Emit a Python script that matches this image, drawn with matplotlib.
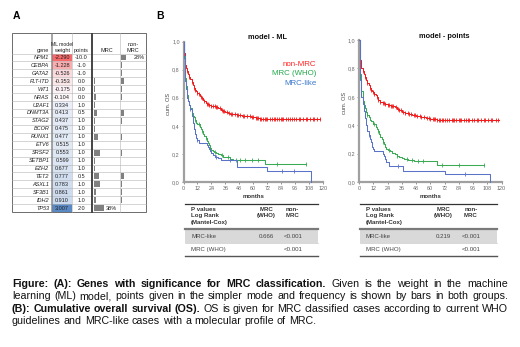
import numpy as np
import matplotlib
matplotlib.use("Agg")
import matplotlib.pyplot as plt
from matplotlib.patches import Rectangle
from matplotlib.colors import LinearSegmentedColormap, TwoSlopeNorm

plt.rcParams['font.family'] = ['Liberation Sans', 'DejaVu Sans']

# ---------------- panel A data ----------------
genes = ['NPM1', 'CEBPA', 'GATA2', 'FLT-ITD', 'WT1', 'NRAS', 'U2AF1', 'DNMT3A', 'STAG2', 'BCOR',
         'RUNX1', 'ETV6', 'SRSF2', 'SETBP1', 'EZH2', 'TET2', 'ASXL1', 'SF3B1', 'IDH2', 'TP53']
ml_weight = [-2.290, -1.228, -0.526, -0.353, -0.175, -0.104, 0.334, 0.413, 0.437, 0.475,
             0.477, 0.515, 0.553, 0.599, 0.677, 0.777, 0.783, 0.861, 0.910, 3.007]
points = [-10.0, -1.0, -1.0, 0.0, 0.0, 0.0, 1.0, 0.5, 1.0, 1.0,
          1.0, 1.0, 1.0, 1.0, 1.0, 0.5, 1.0, 1.0, 1.0, 2.0]
# frequency (%) in MRC / non-MRC groups (data bars)
freq_mrc = [0, 0, 0, 5, 5, 8, 6, 13, 5, 4, 15, 3, 23, 4, 4, 19, 25, 8, 11, 38]
freq_non = [28, 6, 5, 18, 6, 7, 3, 18, 4, 1, 6, 1, 7, 1, 1, 18, 7, 4, 6, 0]

# ---------------- panel B data (Kaplan-Meier steps) ----------------
xticks_months = list(range(0, 121, 12))
# model - ML
ml_non_t = [0, 0.5, 1, 1.5, 2, 3, 4, 5, 6, 7, 8, 9, 10, 11, 12, 13, 14, 15, 16, 17, 18, 19, 20, 22,
            24, 26, 28, 30, 32, 34, 36, 38, 40, 43, 46, 50, 54, 58, 62, 66]
ml_non_s = [1.0, 0.92, 0.86, 0.83, 0.81, 0.79, 0.77, 0.75, 0.73, 0.71, 0.69, 0.67, 0.655, 0.645, 0.635,
            0.625, 0.615, 0.605, 0.595, 0.585, 0.575, 0.565, 0.555, 0.548, 0.543, 0.538, 0.532, 0.525,
            0.515, 0.505, 0.497, 0.492, 0.487, 0.482, 0.478, 0.472, 0.468, 0.465, 0.457, 0.447]
ml_non_end = 117
ml_non_cens = [3, 5, 7, 9, 10, 12, 13, 15, 16, 18, 20, 21, 22, 24, 25, 27, 28, 29, 31, 33, 34, 35, 37,
               39, 41, 42, 44, 46, 47, 49, 51, 52, 55, 57, 59, 60, 62, 63, 64, 66, 67, 68, 70, 71, 72,
               74, 76, 78, 79, 80, 82, 84, 85, 86, 88, 90, 92, 93, 95, 97, 99, 100, 103, 105, 106, 109,
               111, 112, 115, 117]
ml_who_t = [0, 0.5, 1, 1.5, 2, 3, 4, 5, 6, 7, 8, 9, 10, 11, 12, 14, 15, 16, 17, 18, 19, 20, 21, 22,
            23, 24, 25, 26, 28, 30, 32, 34, 36, 40, 43, 70]
ml_who_s = [1.0, 0.90, 0.82, 0.74, 0.68, 0.62, 0.58, 0.55, 0.53, 0.49, 0.47, 0.46, 0.44, 0.42, 0.41,
            0.39, 0.38, 0.36, 0.34, 0.33, 0.31, 0.29, 0.28, 0.26, 0.245, 0.23, 0.22, 0.21, 0.205, 0.2,
            0.19, 0.18, 0.175, 0.165, 0.155, 0.125]
ml_who_end = 105
ml_who_cens = [7, 10, 13, 16, 19, 23, 27, 33, 38, 45, 49, 53, 59, 64, 80, 105]
ml_like_t = [0, 0.5, 1, 1.5, 2, 3, 4, 5, 6, 7, 8, 9, 10, 11, 12, 13, 20, 21, 22, 23, 24, 25, 27, 30,
             32, 46, 72, 110]
ml_like_s = [1.0, 0.88, 0.78, 0.72, 0.66, 0.60, 0.58, 0.55, 0.52, 0.47, 0.42, 0.38, 0.34, 0.31, 0.30,
             0.28, 0.265, 0.25, 0.235, 0.22, 0.205, 0.19, 0.18, 0.17, 0.16, 0.11, 0.08, 0.0]
ml_like_end = 110
ml_like_cens = [6, 12, 28, 40, 85, 95]
# model - points
pt_non_t = [0, 0.5, 1, 1.5, 2, 3, 4, 5, 6, 7, 8, 9, 10, 11, 12, 13, 14, 15, 16, 18, 20, 22, 24, 27,
            30, 32, 34, 36, 39, 42, 45, 48, 52, 56, 60, 63, 66]
pt_non_s = [1.0, 0.92, 0.86, 0.82, 0.80, 0.78, 0.76, 0.74, 0.72, 0.70, 0.68, 0.66, 0.65, 0.64, 0.635,
            0.62, 0.61, 0.60, 0.58, 0.565, 0.555, 0.548, 0.545, 0.535, 0.525, 0.515, 0.505, 0.495,
            0.485, 0.478, 0.472, 0.468, 0.458, 0.452, 0.447, 0.441, 0.437]
pt_non_end = 118
pt_non_cens = ml_non_cens
pt_who_t = [0, 0.5, 1, 1.5, 2, 3, 4, 5, 6, 7, 8, 9, 10, 12, 14, 15, 16, 17, 18, 19, 20, 21, 22, 23,
            24, 26, 28, 30, 32, 34, 36, 38, 41, 46, 66]
pt_who_s = [1.0, 0.86, 0.76, 0.70, 0.64, 0.57, 0.54, 0.52, 0.49, 0.47, 0.46, 0.44, 0.43, 0.41, 0.39,
            0.37, 0.36, 0.34, 0.32, 0.30, 0.28, 0.265, 0.25, 0.235, 0.225, 0.215, 0.205, 0.195, 0.185,
            0.175, 0.168, 0.16, 0.155, 0.148, 0.121]
pt_who_end = 105
pt_who_cens = [7, 13, 16, 20, 25, 32, 40, 45, 50, 54, 70, 84, 105]
pt_like_t = [0, 0.5, 1, 1.5, 2, 3, 4, 5, 6, 7, 8, 9, 10, 11, 12, 13, 20, 21, 22, 23, 25, 37, 72, 110]
pt_like_s = [1.0, 0.85, 0.72, 0.66, 0.60, 0.55, 0.50, 0.45, 0.40, 0.36, 0.33, 0.30, 0.28, 0.25, 0.235,
             0.22, 0.20, 0.18, 0.16, 0.14, 0.11, 0.08, 0.056, 0.0]
pt_like_end = 110
pt_like_cens = [8, 33, 89]

# p-value tables
pv_rows = ['MRC-like', 'MRC (WHO)']
pv_ml = [['0.666', '<0.001'], ['', '<0.001']]
pv_pt = [['0.219', '<0.001'], ['', '<0.001']]

caption = [
    [("Figure: (A): Genes with significance for MRC classification.", True),
     ("Given is the weight in the machine", False)],
    [("learning (ML) model, points given in the simpler mode and frequency is shown by bars in both groups.", False)],
    [("(B): Cumulative overall survival (OS).", True),
     ("OS is given for MRC classified cases according to current WHO", False)],
    [("guidelines and MRC-like cases with a molecular profile of MRC.", False)],
]

RED, GREEN, BLUE = '#f01c1c', '#3aaa55', '#5a72c8'

W, H = 520, 347
fig = plt.figure(figsize=(5.2, 3.47), dpi=100)
ov = fig.add_axes([0, 0, 1, 1])
ov.set_xlim(0, W)
ov.set_ylim(H, 0)
ov.axis('off')

ov.text(13, 15.5, 'A', fontsize=7.5, fontweight='bold', va='center')
ov.text(156, 15.5, 'B', fontsize=7.5, fontweight='bold', va='center')

# ---------------- panel A table ----------------
fs_a = 4.0
xl, xr = 12, 146
g_r, w_l, w_r, p_r, m_l, m_r = 50.5, 52.3, 72, 90.5, 93, 120
top, hdr, rh = 33, 53.5, 7.93
bot = hdr + rh * len(genes)
cmap = LinearSegmentedColormap.from_list('wt', ['#F8696B', '#FCFCFF', '#5A8AC6'])
norm = TwoSlopeNorm(vmin=min(ml_weight), vcenter=0, vmax=max(ml_weight))
grid = '#b4b4b4'
for i, g in enumerate(genes):
    y0 = hdr + i * rh
    yc = y0 + rh / 2
    ov.add_patch(Rectangle((w_l, y0), w_r - w_l, rh, facecolor=cmap(norm(ml_weight[i])), edgecolor='none'))
    ov.text(g_r - 1.2, yc, g, fontsize=fs_a, style='italic', ha='right', va='center', color='#222')
    ov.text((w_l + w_r) / 2, yc, f'{ml_weight[i]:.3f}', fontsize=fs_a, ha='center', va='center', color='#222')
    ov.text((w_r + p_r) / 2, yc, f'{points[i]:.1f}', fontsize=fs_a, ha='center', va='center', color='#222')
    if freq_mrc[i] > 0:
        ov.add_patch(Rectangle((m_l + 0.6, y0 + 1.0), freq_mrc[i] / max(freq_mrc) * 10, rh - 2.0,
                               facecolor='#808080', edgecolor='none'))
    if freq_non[i] > 0:
        ov.add_patch(Rectangle((m_r + 0.8, y0 + 1.0), freq_non[i] / max(freq_non) * 5, rh - 2.0,
                               facecolor='#808080', edgecolor='none'))
    if freq_mrc[i] == max(freq_mrc):
        ov.text(m_r - 3, yc, f'{freq_mrc[i]}%', fontsize=fs_a, ha='right', va='center', color='#222')
    if freq_non[i] == max(freq_non):
        ov.text(xr - 1.5, yc, f'{freq_non[i]}%', fontsize=fs_a, ha='right', va='center', color='#222')
    ov.plot([xl, xr], [y0, y0], color=grid, lw=0.4)
for xv in [w_r, m_r]:
    ov.plot([xv, xv], [top, bot], color=grid, lw=0.4)
for xv in [g_r, w_l]:
    ov.plot([xv, xv], [top, bot], color='#808080', lw=0.5)
for xv in [p_r, m_l - 0.6]:
    ov.plot([xv, xv], [top, bot], color='#444', lw=0.7)
ov.add_patch(Rectangle((xl, top), xr - xl, bot - top, facecolor='none', edgecolor='#555', lw=0.6))
ov.text(g_r - 1.2, 50, 'gene', fontsize=fs_a, ha='right', va='center', color='#222')
ov.text((w_l + w_r) / 2, 44.5, 'ML model', fontsize=3.7, ha='center', va='center', color='#222')
ov.text((w_l + w_r) / 2, 50, 'weight', fontsize=fs_a, ha='center', va='center', color='#222')
ov.text((w_r + p_r) / 2, 50, 'points', fontsize=fs_a, ha='center', va='center', color='#222')
ov.text((m_l + m_r) / 2, 50, 'MRC', fontsize=fs_a, ha='center', va='center', color='#222')
ov.text((m_r + xr) / 2, 44.5, 'non-', fontsize=fs_a, ha='center', va='center', color='#222')
ov.text((m_r + xr) / 2, 50, 'MRC', fontsize=fs_a, ha='center', va='center', color='#222')


# ---------------- panel B survival curves ----------------
def step_at(t, s, c):
    idx = np.searchsorted(t, c, side='right') - 1
    return np.asarray(s)[idx]


def km_panel(box, title, title_xy, curves, ylab_x):
    x0, y0, x1, y1 = box
    ax = fig.add_axes([x0 / W, 1 - y1 / H, (x1 - x0) / W, (y1 - y0) / H])
    for t, s, end, cens, col in curves:
        ax.plot(list(t) + [end], list(s) + [s[-1]], drawstyle='steps-post', color=col, lw=0.75,
                clip_on=False, zorder=3)
        c = np.asarray(cens, dtype=float)
        ax.plot(c, step_at(np.asarray(t), s, c), ls='none', marker='|', ms=2.4, mew=0.6, color=col,
                clip_on=False, zorder=3)
    ax.set_xlim(0, 120)
    ax.set_ylim(0, 1)
    ax.set_xticks(xticks_months)
    ax.set_yticks([0, 0.2, 0.4, 0.6, 0.8, 1.0])
    ax.set_yticklabels(['0,0', '0,2', '0,4', '0,6', '0,8', '1,0'])
    ax.tick_params(labelsize=3.9, colors='#666', length=1.5, width=0.5, pad=1.2)
    for sp in ['top', 'right']:
        ax.spines[sp].set_visible(False)
    for sp in ['left', 'bottom']:
        ax.spines[sp].set_color('#a0a0a0')
        ax.spines[sp].set_linewidth(1.6)
    ax.patch.set_alpha(0)
    ax.set_xlabel('months', fontsize=4.3, fontweight='bold', color='#333', labelpad=2.5)
    ov.text(ylab_x, (y0 + y1) / 2 - 8, 'cum. OS', fontsize=4.1, rotation=90, ha='center', va='center',
            color='#444')
    ov.text(title_xy[0], title_xy[1], title, fontsize=5.3, fontweight='bold', ha='center', va='center',
            color='#111')
    return ax


km_panel((183.5, 41.5, 323, 182), 'model - ML', (267, 37),
         [(ml_non_t, ml_non_s, ml_non_end, ml_non_cens, RED),
          (ml_who_t, ml_who_s, ml_who_end, ml_who_cens, GREEN),
          (ml_like_t, ml_like_s, ml_like_end, ml_like_cens, BLUE)], 169)
km_panel((359, 40, 501.5, 182), 'model - points', (444, 36),
         [(pt_non_t, pt_non_s, pt_non_end, pt_non_cens, RED),
          (pt_who_t, pt_who_s, pt_who_end, pt_who_cens, GREEN),
          (pt_like_t, pt_like_s, pt_like_end, pt_like_cens, BLUE)], 344)

for lab, col, yy in [('non-MRC', '#ff2020', 64), ('MRC (WHO)', '#22a84a', 73.5), ('MRC-like', '#3a78cc', 83)]:
    ov.text(316.5, yy, lab, fontsize=5.7, color=col, ha='right', va='center')


# ---------------- p-value tables ----------------
def pv_table(xa, xb, vals):
    fs = 4.4
    width = xb - xa
    cx1, cx2 = xa + 0.61 * width, xa + 0.81 * width
    ov.plot([xa, xb], [204, 204], color='#333', lw=0.9)
    for k, line in enumerate(['P values', 'Log Rank', '(Mantel-Cox)']):
        ov.text(xa + 6, 209 + 6.5 * k, line, fontsize=fs, fontweight='bold', va='center', color='#333')
    ov.text(cx1, 209, 'MRC', fontsize=fs, fontweight='bold', ha='center', va='center', color='#333')
    ov.text(cx1, 215.5, '(WHO)', fontsize=fs, fontweight='bold', ha='center', va='center', color='#333')
    ov.text(cx2, 209, 'non-', fontsize=fs, fontweight='bold', ha='center', va='center', color='#333')
    ov.text(cx2, 215.5, 'MRC', fontsize=fs, fontweight='bold', ha='center', va='center', color='#333')
    ov.add_patch(Rectangle((xa, 229), width, 14, facecolor='#d9d9d9', edgecolor='none'))
    ov.plot([xa, xb], [229, 229], color='#7a7a7a', lw=1.6)
    ov.plot([xa, xb], [243, 243], color='#c8c8c8', lw=0.5)
    ov.plot([xa, xb], [256, 256], color='#555', lw=1.0)
    for r, name in enumerate(pv_rows):
        yy = 236.5 + 13 * r
        ov.text(xa + 6, yy, name, fontsize=fs, va='center', color='#444')
        ov.text(cx1, yy, vals[r][0], fontsize=fs, ha='center', va='center', color='#444')
        ov.text(cx2, yy, vals[r][1], fontsize=fs, ha='center', va='center', color='#444')


pv_table(185, 318, pv_ml)
pv_table(360, 497, pv_pt)

# ---------------- caption (justified) ----------------
renderer = fig.canvas.get_renderer()


def measure(txt, bold, fs):
    t = ov.text(0, 0, txt, fontsize=fs, fontweight='bold' if bold else 'normal')
    w = t.get_window_extent(renderer).width
    t.remove()
    return w


cap_x0, cap_x1 = 12, 508
# pick the size so that the widest justified line fits with normal spacing
base_fs = 7.0
natural = []
for line in caption[:-1]:
    natural.append(sum(measure(txt, b, base_fs) for txt, b in line) +
                   (len(line) - 1) * (measure('a a', False, base_fs) - 2 * measure('a', False, base_fs)))
cap_fs = base_fs * (cap_x1 - cap_x0 - 2) / max(natural)

space = measure('a a', False, cap_fs) - 2 * measure('a', False, cap_fs)
for li, line in enumerate(caption):
    words = []
    for txt, bold in line:
        words += [(w, bold) for w in txt.split(' ')]
    widths = [measure(w, b, cap_fs) for w, b in words]
    yy = 284 + 12.4 * li
    if li < len(caption) - 1:
        gap = (cap_x1 - cap_x0 - sum(widths)) / (len(words) - 1)
    else:
        gap = space
    x = cap_x0
    for (w, b), wd in zip(words, widths):
        ov.text(x, yy, w, fontsize=cap_fs, fontweight='bold' if b else 'normal', va='center', color='#111')
        x += wd + gap

fig.savefig('out.png', dpi=100)
